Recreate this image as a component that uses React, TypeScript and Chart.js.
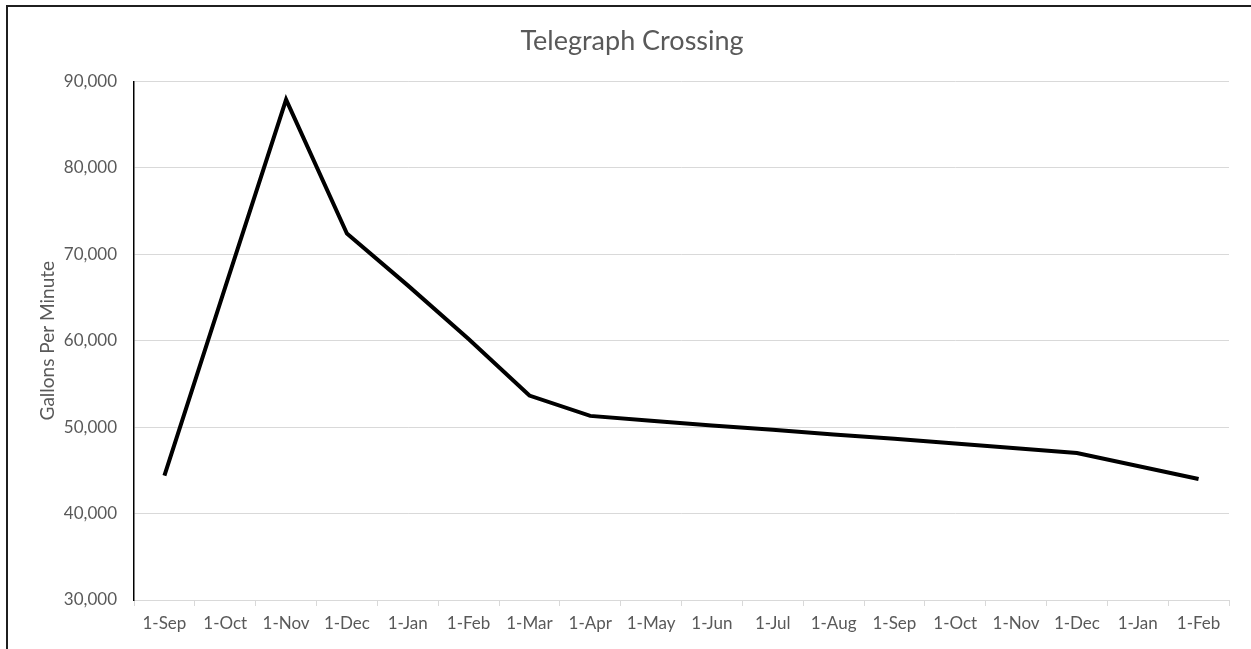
import React, { useEffect, useRef } from "react";
import { Chart, registerables } from "chart.js";

Chart.register(...registerables);

const categories = [
  "1-Sep", "1-Oct", "1-Nov", "1-Dec", "1-Jan", "1-Feb", "1-Mar", "1-Apr", "1-May",
  "1-Jun", "1-Jul", "1-Aug", "1-Sep", "1-Oct", "1-Nov", "1-Dec", "1-Jan", "1-Feb",
];
const flowValues = [
  44400, 66200, 87900, 72400, 66400, 60200, 53650, 51300, 50750,
  50200, 49700, 49150, 48650, 48100, 47550, 47000, 45500, 44000,
];
const yMin = 30000;
const yMax = 90000;
const yStep = 10000;
const chartTitle = "Telegraph Crossing";
const yAxisTitle = "Gallons Per Minute";

const framePlugin = {
  id: "frame",
  beforeDraw(chart: any) {
    const { ctx, width, height } = chart;
    ctx.save();
    ctx.fillStyle = "#ffffff";
    ctx.fillRect(0, 0, width, height);
    ctx.fillStyle = "#1f1f1f";
    ctx.fillRect(6, 5, width - 6, 2);
    ctx.fillRect(6, 5, 2, height - 5);
    ctx.restore();
  },
};

export default function App() {
  const ref = useRef<HTMLCanvasElement | null>(null);
  useEffect(() => {
    if (!ref.current) return;
    const chart = new Chart(ref.current, {
      type: "line",
      data: {
        labels: categories,
        datasets: [
          {
            data: flowValues,
            borderColor: "#000000",
            borderWidth: 4,
            pointRadius: 0,
            tension: 0,
            fill: false,
          },
        ],
      },
      options: {
        responsive: false,
        animation: false,
        devicePixelRatio: 1,
        layout: { padding: { left: 35, right: 22, top: 0, bottom: 0 } },
        plugins: {
          legend: { display: false },
          tooltip: { enabled: false },
          title: {
            display: true,
            text: chartTitle,
            color: "#595959",
            font: { family: "Lato", size: 27, weight: "normal" },
            padding: { top: 25, bottom: 24 },
          },
        },
        scales: {
          x: {
            offset: true,
            grid: {
              offset: true,
              drawOnChartArea: false,
              drawTicks: true,
              tickLength: 6,
              color: "#d9d9d9",
            },
            border: { display: true, color: "#d9d9d9", width: 1 },
            ticks: {
              color: "#595959",
              font: { family: "Lato", size: 17 },
              padding: 7,
              maxRotation: 0,
              autoSkip: false,
            },
            afterFit(scale: any) {
              scale.height = 49;
            },
          },
          y: {
            min: yMin,
            max: yMax,
            ticks: {
              stepSize: yStep,
              color: "#595959",
              font: { family: "Lato", size: 17 },
              padding: 17,
            },
            grid: { color: "#d9d9d9", lineWidth: 1, drawTicks: false },
            border: { display: true, color: "#000000", width: 1.5 },
            title: {
              display: true,
              text: yAxisTitle,
              color: "#595959",
              font: { family: "Lato", size: 19 },
              padding: { top: 1, bottom: 0 },
            },
            afterFit(scale: any) {
              scale.width = 99;
            },
          },
        },
      },
      plugins: [framePlugin],
    });
    return () => chart.destroy();
  }, []);
  return (
    <div style={{ position: "fixed", left: 0, top: 0, width: 1251, height: 649, background: "#fff" }}>
      <canvas ref={ref} width={1251} height={649} style={{ width: 1251, height: 649, display: "block" }} />
    </div>
  );
}
